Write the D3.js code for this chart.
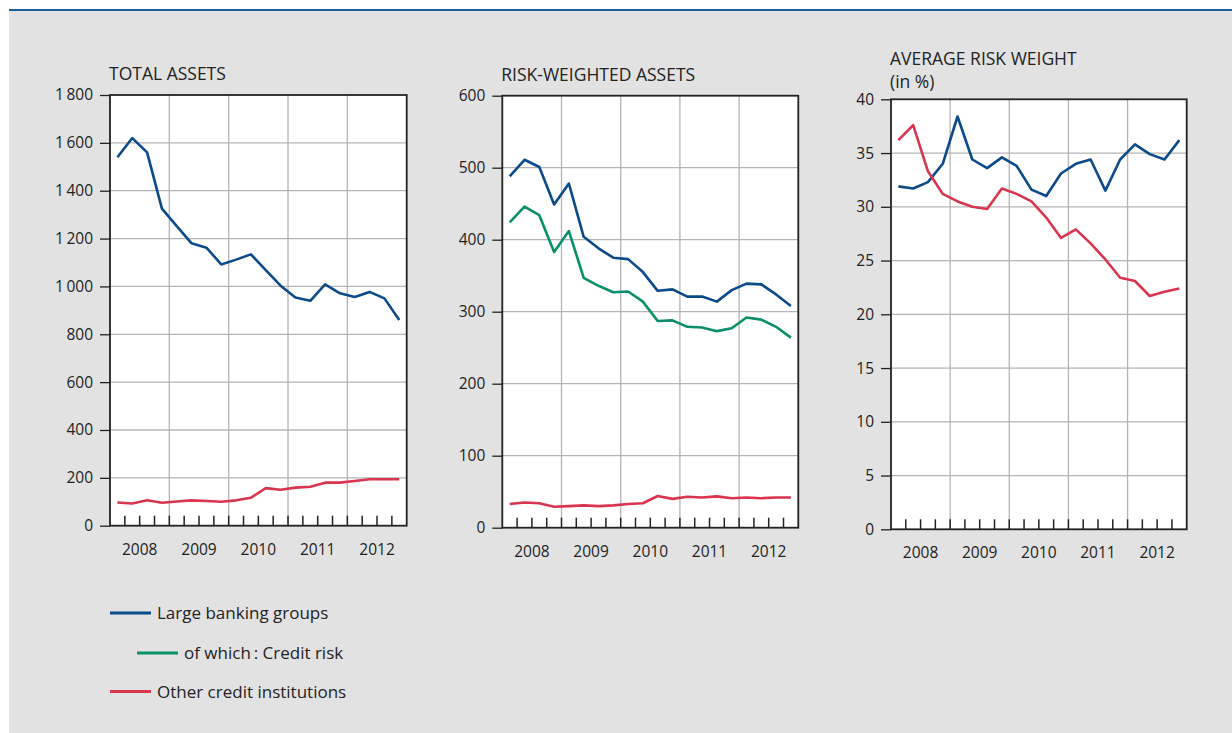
<!DOCTYPE html>
<html>
<head>
<meta charset="utf-8">
<script src="https://cdn.jsdelivr.net/npm/d3@7"></script>
<style>
  body { margin: 0; background: #fff; }
  svg { display: block; font-family: "Open Sans", "Noto Sans", sans-serif; }
</style>
</head>
<body>
<svg id="chart" width="1232" height="733"></svg>
<script>
// years on the x axis, 4 quarters each (2008 Q1 .. 2012 Q4)
var years = ["2008", "2009", "2010", "2011", "2012"];

// total assets
var totalLarge = [1540, 1620, 1560, 1325, 1252, 1180, 1162, 1092, 1112, 1134,
  1068, 1003, 954, 940, 1009, 971, 956, 977, 950, 860];
var totalOther = [97, 93, 106, 96, 101, 106, 103, 100, 106, 117,
  157, 150, 159, 163, 180, 180, 187, 194, 194, 194];

// risk-weighted assets
var rwaLarge = [488, 511, 501, 449, 478, 404, 388, 375, 373, 355,
  329, 331, 321, 321, 314, 330, 339, 338, 324, 308];
var rwaCredit = [424, 446, 434, 383, 412, 347, 336, 327, 328, 314,
  287, 288, 279, 278, 273, 277, 292, 289, 279, 264];
var rwaOther = [33, 35, 34, 29, 30, 31, 30, 31, 33, 34,
  44, 40, 43, 42, 43.5, 41, 42, 41, 42, 42];

// average risk weight (in %)
var rwLarge = [31.9, 31.7, 32.3, 34.0, 38.4, 34.4, 33.6, 34.6, 33.8, 31.6,
  31.0, 33.1, 34.0, 34.4, 31.5, 34.4, 35.8, 34.9, 34.4, 36.2];
var rwOther = [36.2, 37.6, 33.3, 31.2, 30.5, 30.0, 29.8, 31.7, 31.2, 30.5,
  29.0, 27.1, 27.9, 26.6, 25.1, 23.4, 23.1, 21.7, 22.1, 22.4];

var yTicks1 = [0, 200, 400, 600, 800, 1000, 1200, 1400, 1600, 1800];
var yTicks2 = [0, 100, 200, 300, 400, 500, 600];
var yTicks3 = [0, 5, 10, 15, 20, 25, 30, 35, 40];

var legendItems = ["Large banking groups", "of which\u2009: Credit risk", "Other credit institutions"];

var BLUE = "#0b4a8b", GREEN = "#0a8f6a", RED = "#d9354f";
var TEXT = "#222";

var svg = d3.select("#chart");

// grey panel + blue rule on top
svg.append("rect").attr("x", 9).attr("y", 10).attr("width", 1232 - 9).attr("height", 733 - 10)
  .attr("fill", "#e2e2e2");
svg.append("line").attr("x1", 9).attr("x2", 1232).attr("y1", 10).attr("y2", 10)
  .attr("stroke", "#1d5c9c").attr("stroke-width", 2);

function drawPanel(p) {
  var x = d3.scaleLinear().domain([0, 20]).range([p.left, p.right]);
  var y = d3.scaleLinear().domain([0, p.max]).range([p.bottom, p.top]);
  var g = svg.append("g");

  // plot background
  g.append("rect").attr("x", p.left).attr("y", p.top)
    .attr("width", p.right - p.left).attr("height", p.bottom - p.top).attr("fill", "#fff");

  // horizontal grid
  g.append("g").selectAll("line").data(p.ticks.slice(1, -1)).enter().append("line")
    .attr("x1", p.left).attr("x2", p.right)
    .attr("y1", function (d) { return y(d); }).attr("y2", function (d) { return y(d); })
    .attr("stroke", "#b4b4b4").attr("stroke-width", 1.3);

  // vertical grid at year boundaries
  g.append("g").selectAll("line").data([4, 8, 12, 16]).enter().append("line")
    .attr("x1", function (d) { return x(d); }).attr("x2", function (d) { return x(d); })
    .attr("y1", p.top).attr("y2", p.bottom)
    .attr("stroke", "#b4b4b4").attr("stroke-width", 1.3);

  // quarter ticks on the bottom
  g.append("g").selectAll("line").data(d3.range(1, 20)).enter().append("line")
    .attr("x1", function (d) { return x(d); }).attr("x2", function (d) { return x(d); })
    .attr("y1", p.bottom).attr("y2", p.bottom - 10)
    .attr("stroke", "#222").attr("stroke-width", 1.5);

  // y axis
  var yAxis = d3.axisLeft(y).tickValues(p.ticks).tickSize(10).tickPadding(7)
    .tickFormat(function (d) { return d >= 1000 ? d3.format(",")(d).replace(",", "\u2009") : d; });
  var ya = g.append("g").attr("transform", "translate(" + p.left + ",0)").call(yAxis);
  ya.select(".domain").remove();
  ya.selectAll(".tick line").attr("stroke", "#222").attr("stroke-width", 1.3);
  ya.attr("font-size", null).attr("font-family", null);
  ya.selectAll(".tick text").attr("fill", TEXT).style("font-size", "15.5px");

  // year labels
  g.append("g").selectAll("text").data(years).enter().append("text")
    .attr("x", function (d, i) { return x(i * 4 + 2); })
    .attr("y", p.bottom + 29)
    .attr("text-anchor", "middle").attr("fill", TEXT).style("font-size", "15.5px")
    .text(function (d) { return d; });

  // lines
  var line = d3.line()
    .x(function (d, i) { return x(i + 0.5); })
    .y(function (d) { return y(d); });
  p.series.forEach(function (s) {
    g.append("path").datum(s.values)
      .attr("d", line).attr("fill", "none")
      .attr("stroke", s.color).attr("stroke-width", 2.6)
      .attr("stroke-linejoin", "round");
  });

  // frame
  g.append("rect").attr("x", p.left).attr("y", p.top)
    .attr("width", p.right - p.left).attr("height", p.bottom - p.top)
    .attr("fill", "none").attr("stroke", "#222").attr("stroke-width", 1.8);

  // title
  p.title.forEach(function (t, i) {
    g.append("text").attr("x", p.left - 1).attr("y", p.titleY + i * 23)
      .attr("fill", TEXT).style("font-size", "17.5px").text(t);
  });
}

drawPanel({
  left: 110, right: 406.7, top: 95, bottom: 525.7, max: 1800, ticks: yTicks1,
  title: ["TOTAL ASSETS"], titleY: 80,
  series: [{ values: totalLarge, color: BLUE }, { values: totalOther, color: RED }]
});
drawPanel({
  left: 502.3, right: 798.3, top: 95.7, bottom: 527.7, max: 600, ticks: yTicks2,
  title: ["RISK-WEIGHTED ASSETS"], titleY: 81,
  series: [{ values: rwaLarge, color: BLUE }, { values: rwaCredit, color: GREEN }, { values: rwaOther, color: RED }]
});
drawPanel({
  left: 891, right: 1186.7, top: 99.3, bottom: 529.3, max: 40, ticks: yTicks3,
  title: ["AVERAGE RISK WEIGHT", "(in %)"], titleY: 65,
  series: [{ values: rwLarge, color: BLUE }, { values: rwOther, color: RED }]
});

// legend
var legend = svg.append("g");
var legendRows = [
  { x: 110, y: 613, color: BLUE },
  { x: 137, y: 653, color: GREEN },
  { x: 110, y: 691.5, color: RED }
];
legendRows.forEach(function (r, i) {
  legend.append("line").attr("x1", r.x).attr("x2", r.x + 41).attr("y1", r.y).attr("y2", r.y)
    .attr("stroke", r.color).attr("stroke-width", 3);
  legend.append("text").attr("x", r.x + 47).attr("y", r.y + 6)
    .attr("fill", TEXT).style("font-size", "17px").text(legendItems[i]);
});
</script>
</body>
</html>
